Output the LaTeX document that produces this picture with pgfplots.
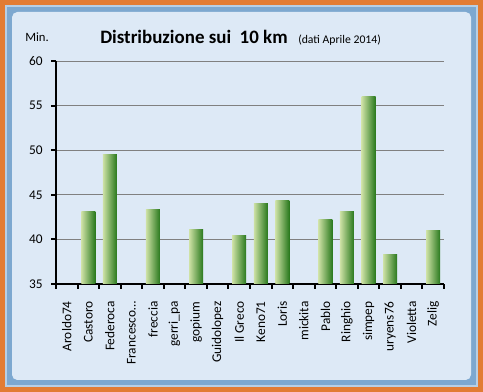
\documentclass[border=0pt]{standalone}
\usepackage{pgfplots}
\pgfplotsset{compat=1.18}
\usepackage{fontspec}
\setmainfont{Carlito}
\definecolor{frameO}{RGB}{226,124,52}
\definecolor{frameB}{RGB}{125,168,208}
\definecolor{bg}{RGB}{221,233,246}
\definecolor{barL}{RGB}{205,225,165}
\definecolor{barR}{RGB}{40,120,28}
\definecolor{gridc}{RGB}{128,128,128}
\begin{document}
\begin{tikzpicture}[x=0.75pt,y=-0.75pt]
\fill[frameO] (0,0) rectangle (483,392);
\fill[frameB!55!white] (5,5) rectangle (478,387);
\fill[frameB] (7,7) rectangle (476,385);
\fill[bg, rounded corners=4pt] (12,12) rectangle (471,380);
\node[anchor=base west, inner sep=0pt, font=\fontsize{9.5}{10}\selectfont] at (25,42) {Min.};
\node[anchor=base west, inner sep=0pt, font=\fontsize{14.2}{16}\selectfont\bfseries] at (100,44) {Distribuzione sui\ \ 10 km};
\node[anchor=base west, inner sep=0pt, font=\fontsize{8.8}{10}\selectfont] at (298,44) {(dati Aprile 2014)};
\begin{axis}[
  at={(42pt,-213pt)}, anchor=south west,
  scale only axis, width=291pt, height=167.25pt,
  ymin=35, ymax=60, ytick={35,40,...,60},
  xmin=-0.5, xmax=17.5,
  axis x line*=bottom, axis y line*=left,
  axis line style={black, line width=1.5pt},
  ymajorgrids, grid style={gridc, line width=0.75pt},
  xtick={0,...,17},
  xticklabels={Aroldo74,Castoro,Federoca,{Francesco…},freccia,gerri\_pa,gopium,Guidolopez,Il Greco,Keno71,Loris,mickita,Pablo,Ringhio,simpep,uryens76,Violetta,Zelig},
  x tick label style={rotate=90, anchor=east, font=\fontsize{10}{12}\selectfont, xshift=-6pt},
  y tick label style={font=\fontsize{10}{12}\selectfont, xshift=-3pt},
  /pgf/number format/assume math mode=true,
  every major x tick/.append style={draw=none},
  minor xtick={-0.5,0.5,...,17.5},
  tick align=outside,
  major tick length=3.5pt, minor tick length=3.5pt,
  tick style={black, line width=1.5pt},
  gbar/.style={ybar, bar width=10.5pt, draw=none, left color=barL, right color=barR, forget plot},
]
\addplot[gbar] coordinates {(1,43.1)};
\addplot[gbar] coordinates {(2,49.5)};
\addplot[gbar] coordinates {(4,43.4)};
\addplot[gbar] coordinates {(6,41.1)};
\addplot[gbar] coordinates {(8,40.4)};
\addplot[gbar] coordinates {(9,44.0)};
\addplot[gbar] coordinates {(10,44.4)};
\addplot[gbar] coordinates {(12,42.2)};
\addplot[gbar] coordinates {(13,43.1)};
\addplot[gbar] coordinates {(14,56.0)};
\addplot[gbar] coordinates {(15,38.3)};
\addplot[gbar] coordinates {(17,41.0)};
\end{axis}
\end{tikzpicture}
\end{document}
